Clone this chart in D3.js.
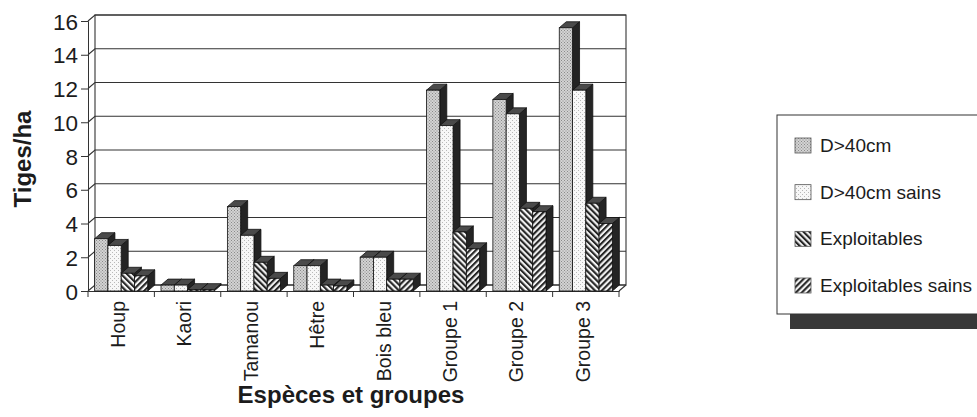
<!DOCTYPE html>
<html>
<head>
<meta charset="utf-8">
<script src="https://cdn.jsdelivr.net/npm/d3@7"></script>
<style>
  body { margin: 0; background: #fff; }
  svg text { font-family: Arial, "Liberation Sans", sans-serif; fill: #1c1c1c; }
</style>
</head>
<body>
<div id="chart"></div>
<script>
// categories and series
const categories = ['Houp', 'Kaori', 'Tamanou', 'Hêtre', 'Bois bleu', 'Groupe 1', 'Groupe 2', 'Groupe 3'];
const seriesNames = ['D>40cm', 'D>40cm sains', 'Exploitables', 'Exploitables sains'];
const d40 = [3.1, 0.35, 5.0, 1.5, 2.0, 11.9, 11.35, 15.6];
const d40Sains = [2.7, 0.35, 3.3, 1.5, 2.0, 9.8, 10.5, 11.9];
const exploitables = [1.05, 0.08, 1.7, 0.35, 0.7, 3.5, 4.9, 5.2];
const exploitablesSains = [0.9, 0.08, 0.75, 0.3, 0.7, 2.5, 4.7, 4.0];
const yTicks = [0, 2, 4, 6, 8, 10, 12, 14, 16];

const W = 977, H = 417;
const margin = { left: 88, right: 358, top: 21, bottom: 126 };
const depth = { dx: 7, dy: -6 };

const svg = d3.select('#chart').append('svg')
    .attr('width', W)
    .attr('height', H);

// fill patterns
const defs = svg.append('defs');
function dotPattern(id, bg, dot, size) {
    const p = defs.append('pattern').attr('id', id)
        .attr('patternUnits', 'userSpaceOnUse')
        .attr('width', size).attr('height', size);
    p.append('rect').attr('width', size).attr('height', size).attr('fill', bg);
    p.append('rect').attr('x', 0).attr('y', 0).attr('width', 1).attr('height', 1).attr('fill', dot);
    p.append('rect').attr('x', size / 2).attr('y', size / 2).attr('width', 1).attr('height', 1).attr('fill', dot);
}
function hatchPattern(id, angle) {
    const p = defs.append('pattern').attr('id', id)
        .attr('patternUnits', 'userSpaceOnUse')
        .attr('width', 4.2).attr('height', 10)
        .attr('patternTransform', `rotate(${angle})`);
    p.append('rect').attr('width', 4.2).attr('height', 10).attr('fill', '#f4f4f4');
    p.append('rect').attr('width', 2.1).attr('height', 10).attr('fill', '#262626');
}
dotPattern('dots1', '#d3d3d3', '#8a8a8a', 3);
dotPattern('dots2', '#f7f7f7', '#b8b8b8', 4);
hatchPattern('hatchBack', -45);
hatchPattern('hatchFwd', 45);
const fills = ['url(#dots1)', 'url(#dots2)', 'url(#hatchBack)', 'url(#hatchFwd)'];
const seriesValues = [d40, d40Sains, exploitables, exploitablesSains];

// scales
const x0 = d3.scaleBand()
    .domain(categories)
    .range([margin.left, W - margin.right])
    .paddingInner(0);
const x1 = d3.scaleBand()
    .domain(seriesNames)
    .range([0, x0.bandwidth()])
    .paddingOuter(0.5);
const y = d3.scaleLinear()
    .domain([0, 16])
    .range([H - margin.bottom, margin.top]);

const x0L = margin.left, x0R = W - margin.right;
const yBase = y(0);

// back wall, left wall and floor outlines
const walls = svg.append('g').attr('stroke', '#333').attr('stroke-width', 1.1).attr('fill', 'none');
walls.append('rect')
    .attr('x', x0L + depth.dx).attr('y', y(16) + depth.dy)
    .attr('width', x0R - x0L).attr('height', yBase - y(16))
    .attr('fill', '#fff');
yTicks.forEach(t => {
    walls.append('path')
        .attr('d', `M${x0L},${y(t)}L${x0L + depth.dx},${y(t) + depth.dy}H${x0R + depth.dx}`);
});
walls.append('path').attr('d', `M${x0R},${yBase}L${x0R + depth.dx},${yBase + depth.dy}`);

// front axes
const yAxis = svg.append('g')
    .attr('transform', `translate(${x0L},0)`)
    .call(d3.axisLeft(y).tickValues(yTicks).tickSize(7).tickPadding(3).tickFormat(d3.format('d')));
yAxis.select('.domain').attr('stroke', '#333');
yAxis.selectAll('.tick line').attr('stroke', '#333');
yAxis.selectAll('.tick text')
    .style('font-size', '22.5px')
    .attr('dy', '0.36em');

const xAxis = svg.append('g')
    .attr('transform', `translate(0,${yBase})`)
    .call(d3.axisBottom(x0).tickSize(0).tickFormat(''));
xAxis.select('.domain').attr('stroke', '#333');
const boundaries = categories.map(c => x0(c)).concat([x0R]);
xAxis.selectAll('.bound')
    .data(boundaries)
    .join('line')
    .attr('class', 'bound')
    .attr('x1', d => d).attr('x2', d => d)
    .attr('y1', 0).attr('y2', 6)
    .attr('stroke', '#333');

// category labels, rotated
svg.append('g').selectAll('text')
    .data(categories)
    .join('text')
    .attr('transform', d => `translate(${x0(d) + x0.bandwidth() / 2 - 3},${yBase + 10}) rotate(-90)`)
    .attr('text-anchor', 'end')
    .attr('dy', '0.35em')
    .style('font-size', '19.5px')
    .text(d => d);

// 3D bars
const bars = svg.append('g');
categories.forEach((c, ci) => {
    seriesNames.forEach((s, si) => {
        const v = seriesValues[si][ci];
        const bx = x0(c) + x1(s);
        const bw = x1.bandwidth();
        const by = y(v);
        const g = bars.append('g').attr('stroke', '#111').attr('stroke-width', 0.8);
        // side
        g.append('path')
            .attr('d', `M${bx + bw},${by}L${bx + bw + depth.dx},${by + depth.dy}L${bx + bw + depth.dx},${yBase + depth.dy}L${bx + bw},${yBase}Z`)
            .attr('fill', '#242424');
        // top
        g.append('path')
            .attr('d', `M${bx},${by}L${bx + depth.dx},${by + depth.dy}L${bx + bw + depth.dx},${by + depth.dy}L${bx + bw},${by}Z`)
            .attr('fill', '#4a4a4a');
        // front
        g.append('rect')
            .attr('x', bx).attr('y', by)
            .attr('width', bw).attr('height', yBase - by)
            .attr('fill', fills[si]);
    });
});

// axis titles
svg.append('text')
    .attr('transform', `translate(23,${(y(16) + yBase) / 2 + 3}) rotate(-90)`)
    .attr('text-anchor', 'middle')
    .attr('dy', '0.35em')
    .style('font-size', '24px')
    .style('font-weight', 'bold')
    .text('Tiges/ha');

svg.append('text')
    .attr('x', 351)
    .attr('y', 403)
    .attr('text-anchor', 'middle')
    .style('font-size', '24px')
    .style('font-weight', 'bold')
    .text('Espèces et groupes');

// legend with shadow
const legend = svg.append('g');
legend.append('rect')
    .attr('x', 790).attr('y', 129).attr('width', 300).attr('height', 200)
    .attr('fill', '#383838');
legend.append('rect')
    .attr('x', 777).attr('y', 115).attr('width', 300).attr('height', 199)
    .attr('fill', '#fff').attr('stroke', '#333').attr('stroke-width', 1);
const legendY = d3.scalePoint().domain(seriesNames).range([145, 285]);
seriesNames.forEach((s, si) => {
    legend.append('rect')
        .attr('x', 795).attr('y', legendY(s) - 7)
        .attr('width', 16).attr('height', 15)
        .attr('fill', fills[si])
        .attr('stroke', '#555').attr('stroke-width', 0.8);
    legend.append('text')
        .attr('x', 820).attr('y', legendY(s))
        .attr('dy', '0.36em')
        .style('font-size', '19px')
        .text(s);
});
</script>
</body>
</html>
